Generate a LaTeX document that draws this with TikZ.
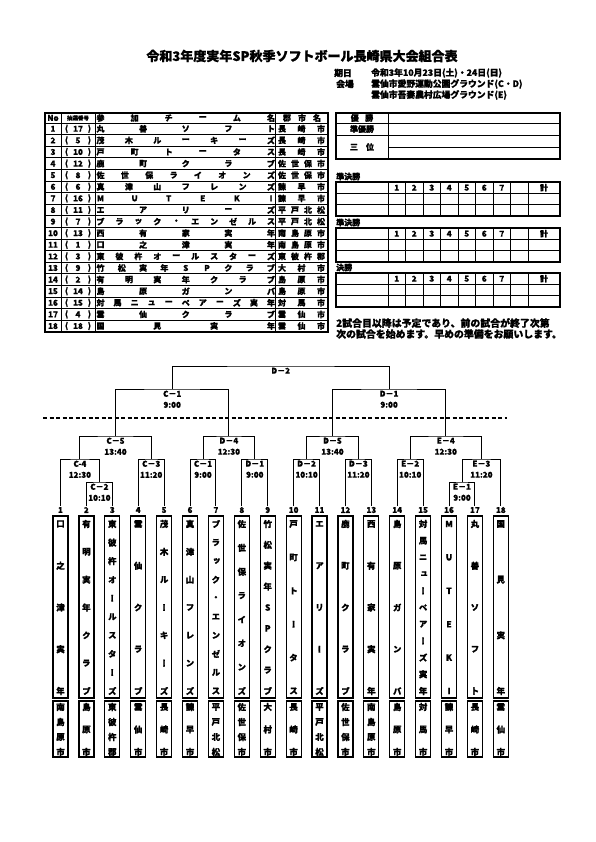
\documentclass[tikz,border=0pt]{standalone}
\usepackage{fontspec}
\setmainfont{Noto Sans CJK JP}[BoldFeatures={FakeBold=1}]
\newfontfamily\vjp{Noto Sans CJK JP}[RawFeature=+vert, BoldFeatures={FakeBold=1}]
\usetikzlibrary{positioning}

\tikzset{
  frame/.style={line width=1.4pt},
  rule/.style={line width=0.8pt},
  bline/.style={line width=1pt},
  cell/.style={font=\bfseries\fontsize{8}{8}\selectfont, inner sep=0pt},
  info/.style={font=\bfseries\fontsize{8.8}{8.8}\selectfont, inner sep=0pt},
  small/.style={font=\bfseries\fontsize{5.5}{5.5}\selectfont, inner sep=0pt},
  vch/.style={font=\vjp\bfseries\fontsize{8.5}{8.5}\selectfont, inner sep=0pt},
  teamno/.style={font=\bfseries\fontsize{8}{8}\selectfont, inner sep=0.5pt},
  match/.style={font=\bfseries\fontsize{8}{11}\selectfont, align=center, anchor=north, inner sep=1.5pt},
  namebox/.style={draw, line width=1.2pt, minimum width=15pt, minimum height=182pt, inner sep=0pt},
  citybox/.style={draw, line width=1.2pt, minimum width=15pt, minimum height=56pt, inner sep=0pt},
}

\begin{document}
\begin{tikzpicture}[x=1pt, y=-1pt]
  \useasboundingbox (0,0) rectangle (595,842);
  \fill[white] (0,0) rectangle (595,842);

  % title, date and grounds
  \node[font=\bfseries\fontsize{13}{13}\selectfont, inner sep=0pt] (title) at (302,56) {令和3年度実年SP秋季ソフトボール長崎県大会組合表};
  \node[info] (kijitsu) at (343,73) {期日};
  \node[info] (kaijo) at (345,84) {会場};
  \node[info, anchor=west] (date) at (371,73) {令和3年10月23日(土)・24日(日)};
  \node[info, anchor=west] (venue1) at (371,84) {雲仙市愛野運動公園グラウンド(C・D)};
  \node[info, anchor=west] (venue2) at (371,95) {雲仙市吾妻農村広場グラウンド(E)};

  % entry table
  \draw[frame] (45,113) rectangle (328,332);
  \foreach \x in {61.5,95,275.5} \draw[rule] (\x,113) -- (\x,332);
  \foreach \r in {0,...,17} \draw[rule] (45,{123+11.6*\r}) -- (328,{123+11.6*\r});
  \node[cell] (hno) at (53,118) {No};
  \node[small] (hlot) at (78,118) {抽選番号};
  \foreach \c [count=\k] in {参,加,チ,ー,ム,名} \node[cell] (hname\k) at ({100.5+(\k-1)*34.1},118) {\c};
  \foreach \c [count=\k] in {郡,市,名} \node[cell] (hcity\k) at ({287+(\k-1)*15},118) {\c};

  % rows of the table and the team boxes under the bracket (box = draw number)
  \foreach \r/\lot/\nm/\nn/\ct/\cn in {
    1/17/{丸,善,ソ,フ,ト}/5/{長,崎,市}/3,
    2/5/{茂,木,ル,ー,キ,ー,ズ}/7/{長,崎,市}/3,
    3/10/{戸,町,ト,ー,タ,ス}/6/{長,崎,市}/3,
    4/12/{鹿,町,ク,ラ,ブ}/5/{佐,世,保,市}/4,
    5/8/{佐,世,保,ラ,イ,オ,ン,ズ}/8/{佐,世,保,市}/4,
    6/6/{真,津,山,フ,レ,ン,ズ}/7/{諫,早,市}/3,
    7/16/{M,U,T,E,K,I}/6/{諫,早,市}/3,
    8/11/{エ,ア,リ,ー,ズ}/5/{平,戸,北,松}/4,
    9/7/{ブ,ラ,ッ,ク,・,エ,ン,ゼ,ル,ス}/10/{平,戸,北,松}/4,
    10/13/{西,有,家,実,年}/5/{南,島,原,市}/4,
    11/1/{口,之,津,実,年}/5/{南,島,原,市}/4,
    12/3/{東,彼,杵,オ,ー,ル,ス,タ,ー,ズ}/10/{東,彼,杵,郡}/4,
    13/9/{竹,松,実,年,S,P,ク,ラ,ブ}/9/{大,村,市}/3,
    14/2/{有,明,実,年,ク,ラ,ブ}/7/{島,原,市}/3,
    15/14/{島,原,ガ,ン,バ}/5/{島,原,市}/3,
    16/15/{対,馬,ニ,ュ,ー,ペ,ア,ー,ズ,実,年}/11/{対,馬,市}/3,
    17/4/{雲,仙,ク,ラ,ブ}/5/{雲,仙,市}/3,
    18/18/{国,見,実,年}/4/{雲,仙,市}/3}{
    \pgfmathsetmacro\ry{117.2+11.6*\r}
    \node[cell] (no\r) at (53,\ry) {\r};
    \node[cell] (lot\r) at (78,\ry) {\lot};
    \node[cell] (lpar\r) at (66.5,\ry) {(};
    \node[cell] (rpar\r) at (89.5,\ry) {)};
    \foreach \c [count=\k] in \nm \node[cell] (tn\r-\k) at ({100.5+(\k-1)*170.5/(\nn-1)},\ry) {\c};
    \foreach \c [count=\k] in \ct \node[cell] (tc\r-\k) at ({282+(\k-1)*39/(\cn-1)},\ry) {\c};
    \pgfmathsetmacro\tx{60.5+25.9*(\lot-1)}
    \node[teamno] (n\lot) at (\tx,510) {\lot};
    \node[namebox] (b\lot) at (\tx,607) {};
    \node[citybox] (c\lot) at (\tx,729) {};
    \foreach \c [count=\k] in \nm \node[vch] (bn\lot-\k) at (\tx,{524+(\k-1)*167/(\nn-1)}) {\c};
    \foreach \c [count=\k] in \ct \node[vch] (bc\lot-\k) at (\tx,{707+(\k-1)*45/(\cn-1)}) {\c};
  }

  % results
  \draw[frame] (336,113) rectangle (560,159);
  \draw[rule] (388,113) -- (388,159) (336,123) -- (560,123) (336,135) -- (560,135) (388,147) -- (560,147);
  \node[cell] (yusho) at (362,118) {優\hspace{0.8em}勝};
  \node[cell] (junyusho) at (362,129) {準優勝};
  \node[cell] (sani) at (362,147) {三\hspace{1em}位};

  % score sheets
  \foreach \ty/\lab [count=\s] in {182/準決勝, 228/準決勝, 273/決勝}{
    \node[cell, anchor=west] (round\s) at (336,\ty-5.5) {\lab};
    \draw[frame] (336,\ty) rectangle (560,\ty+34);
    \draw[rule] (336,\ty+11.3) -- (560,\ty+11.3) (336,\ty+22.7) -- (560,\ty+22.7);
    \foreach \k in {0,...,8} \draw[rule] ({388+17.5*\k},\ty) -- ({388+17.5*\k},\ty+34);
    \foreach \k in {1,...,7} \node[cell] (inn\s-\k) at ({388+17.5*(\k-0.5)},\ty+5.7) {\k};
    \node[cell] (kei\s) at (544,\ty+5.7) {計};
  }
  \node[font=\bfseries\fontsize{9.9}{11}\selectfont, anchor=west, inner sep=0pt] (note1) at (336,323) {2試合目以降は予定であり、前の試合が終了次第};
  \node[font=\bfseries\fontsize{9.9}{11}\selectfont, anchor=west, inner sep=0pt] (note2) at (336,334) {次の試合を始めます。早めの準備をお願いします。};

  % bracket
  \node[match] (F) at (280.7,366) {D－2};
  \node[match] (C1t) at (172.2,389) {C－1\\9:00};
  \node[match] (D1t) at (389.1,389) {D－1\\9:00};
  \node[match] (C5) at (115.5,436) {C－5\\13:40};
  \node[match] (D4) at (228.9,436) {D－4\\12:30};
  \node[match] (D5) at (332.5,436) {D－5\\13:40};
  \node[match] (E4) at (445.8,436) {E－4\\12:30};
  \node[match] (C4) at (79.9,459) {C-4\\12:30};
  \node[match] (C3) at (151.2,459) {C－3\\11:20};
  \node[match] (C1) at (203,459) {C－1\\9:00};
  \node[match] (D1) at (254.8,459) {D－1\\9:00};
  \node[match] (D2) at (306.6,459) {D－2\\10:10};
  \node[match] (D3) at (358.4,459) {D－3\\11:20};
  \node[match] (E2) at (410.2,459) {E－2\\10:10};
  \node[match] (E3) at (481.4,459) {E－3\\11:20};
  \node[match] (C2) at (99.4,482) {C－2\\10:10};
  \node[match] (E1) at (462,482) {E－1\\9:00};

  \draw[bline] (C1t.north) |- (F.north) -| (D1t.north);
  \draw[bline] (C5.north) |- (C1t.north) -| (D4.north);
  \draw[bline] (D5.north) |- (D1t.north) -| (E4.north);
  \draw[bline] (C4.north) |- (C5.north) -| (C3.north);
  \draw[bline] (C1.north) |- (D4.north) -| (D1.north);
  \draw[bline] (D2.north) |- (D5.north) -| (D3.north);
  \draw[bline] (E2.north) |- (E4.north) -| (E3.north);
  \draw[bline] (n1.north) |- (C4.north) -| (C2.north);
  \draw[bline] (n2.north) |- (C2.north) -| (n3.north);
  \draw[bline] (n4.north) |- (C3.north) -| (n5.north);
  \draw[bline] (n6.north) |- (C1.north) -| (n7.north);
  \draw[bline] (n8.north) |- (D1.north) -| (n9.north);
  \draw[bline] (n10.north) |- (D2.north) -| (n11.north);
  \draw[bline] (n12.north) |- (D3.north) -| (n13.north);
  \draw[bline] (n14.north) |- (E2.north) -| (n15.north);
  \draw[bline] (E1.north) |- (E3.north) -| (n18.north);
  \draw[bline] (n16.north) |- (E1.north) -| (n17.north);

  % day break
  \draw[line width=1.2pt, dash pattern=on 4pt off 2.5pt] (43,418) -- (507,418);
\end{tikzpicture}
\end{document}
